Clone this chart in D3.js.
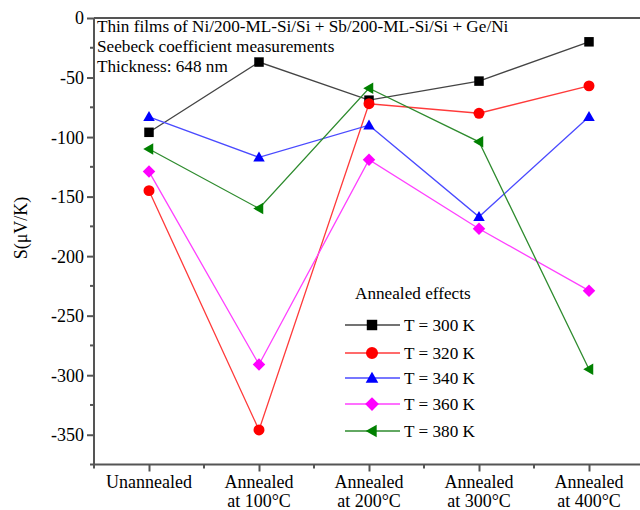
<!DOCTYPE html>
<html><head><meta charset="utf-8">
<script src="https://cdn.jsdelivr.net/npm/d3@7"></script>
<style>body{margin:0;background:#fff}svg{display:block}</style>
</head><body><svg id="c" width="640" height="510"></svg>
<script>
const categories = ["Unannealed", "Annealed\nat 100°C", "Annealed\nat 200°C", "Annealed\nat 300°C", "Annealed\nat 400°C"];
const seriesNames = ["T = 300 K", "T = 320 K", "T = 340 K", "T = 360 K", "T = 380 K"];
const s300 = [-96, -37, -69, -53, -20];
const s320 = [-145, -346, -72, -80, -57];
const s340 = [-83, -117, -90, -167, -83];
const s360 = [-129, -291, -119, -177, -229];
const s380 = [-110, -160, -59, -104, -295];
const yTicks = [0, -50, -100, -150, -200, -250, -300, -350];
const headerLines = ["Thin films of Ni/200-ML-Si/Si + Sb/200-ML-Si/Si + Ge/Ni", "Seebeck coefficient measurements", "Thickness: 648 nm"];

const FONT = "Liberation Serif";

const series = [
  {name: seriesNames[0], values: s300, color: "#000000", line: "#444444", sym: "square"},
  {name: seriesNames[1], values: s320, color: "#ff0000", line: "#ff3a3a", sym: "circle"},
  {name: seriesNames[2], values: s340, color: "#0000ff", line: "#4a4aff", sym: "up"},
  {name: seriesNames[3], values: s360, color: "#ff00ff", line: "#ff40ff", sym: "diamond"},
  {name: seriesNames[4], values: s380, color: "#008000", line: "#2e8b2e", sym: "left"}
];

const svg = d3.select("#c");
const x = d3.scaleLinear().domain([-0.5, 4.5]).range([94, 644]);
const y = d3.scaleLinear().domain([-375, 0]).range([464.5, 18]);
const axisColor = "#555";

function txt(sel) { return sel.append("text").attr("font-family", FONT).attr("fill", "#000"); }

svg.append("line").attr("x1", x(-0.5)).attr("x2", 640).attr("y1", y(0)).attr("y2", y(0))
  .attr("stroke", axisColor).attr("stroke-width", 2);

const yAxis = d3.axisLeft(y).tickValues(yTicks).tickSize(7).tickPadding(3).tickFormat(d => String(d));
const gy = svg.append("g").attr("transform", `translate(${x(-0.5)},0)`).call(yAxis);
gy.attr("font-family", FONT).attr("font-size", 18);
gy.select(".domain").attr("stroke", axisColor).attr("stroke-width", 2).attr("d", `M0,${y(-375)}V${y(0)}`);
gy.selectAll(".tick line").attr("stroke", axisColor).attr("stroke-width", 2);
gy.selectAll(".tick text").attr("font-family", FONT).attr("font-size", 18).attr("fill", "#000").attr("dy", "0.33em");
svg.append("g").selectAll("line").data(d3.range(-325, 0, 50).concat([-375]))
  .join("line").attr("x1", x(-0.5) - 4).attr("x2", x(-0.5)).attr("y1", d => y(d)).attr("y2", d => y(d))
  .attr("stroke", axisColor).attr("stroke-width", 2);

const xAxis = d3.axisBottom(x).tickValues(d3.range(0, 5)).tickSize(7).tickFormat("");
const gx = svg.append("g").attr("transform", `translate(0,${y(-375)})`).call(xAxis);
gx.select(".domain").attr("stroke", axisColor).attr("stroke-width", 2).attr("d", `M${x(-0.5)},0H640`);
gx.selectAll(".tick line").attr("stroke", axisColor).attr("stroke-width", 2);
svg.append("g").selectAll("line").data([-0.5, 0.5, 1.5, 2.5, 3.5])
  .join("line").attr("x1", d => x(d)).attr("x2", d => x(d)).attr("y1", y(-375)).attr("y2", y(-375) + 4)
  .attr("stroke", axisColor).attr("stroke-width", 2);
categories.forEach((c, i) => {
  const t = txt(svg).attr("text-anchor", "middle").attr("font-size", 18);
  c.split("\n").forEach((ln, j) => t.append("tspan").attr("x", x(i)).attr("y", 488 + j * 19).text(ln));
});

txt(svg).attr("transform", `translate(27,228) rotate(-90)`).attr("text-anchor", "middle")
  .attr("font-size", 18).text("S(μV/K)");

headerLines.forEach((t, i) => txt(svg).attr("x", 97).attr("y", 32 + i * 20).attr("font-size", 17.2).text(t));

function drawSym(g, s, r) {
  let d;
  if (s.sym === "square") d = `M${-r * 0.95},${-r * 0.95}H${r * 0.95}V${r * 0.95}H${-r * 0.95}Z`;
  else if (s.sym === "circle") d = d3.symbol().type(d3.symbolCircle).size(Math.PI * r * r * 1.2)();
  else if (s.sym === "up") d = `M0,${-r * 1.15}L${r * 1.15},${r * 0.85}L${-r * 1.15},${r * 0.85}Z`;
  else if (s.sym === "diamond") d = `M0,${-r * 1.25}L${r * 1.25},0L0,${r * 1.25}L${-r * 1.25},0Z`;
  else d = `M${-r * 1.15},0L${r * 0.85},${-r * 1.15}L${r * 0.85},${r * 1.15}Z`;
  g.append("path").attr("d", d).attr("fill", s.color);
}

const line = d3.line().x((d, i) => x(i)).y(d => y(d));
series.forEach(s => {
  svg.append("path").datum(s.values).attr("d", line).attr("fill", "none")
    .attr("stroke", s.line).attr("stroke-width", 1.3);
  s.values.forEach((v, i) => {
    const g = svg.append("g").attr("transform", `translate(${x(i)},${y(v)})`);
    drawSym(g, s, 5);
  });
});

txt(svg).attr("x", 355).attr("y", 299).attr("font-size", 17.2).text("Annealed effects");
const legY = [325, 353, 378, 404, 431];
series.forEach((s, i) => {
  svg.append("line").attr("x1", 345).attr("x2", 400).attr("y1", legY[i]).attr("y2", legY[i])
    .attr("stroke", s.line).attr("stroke-width", 1.3);
  const g = svg.append("g").attr("transform", `translate(372,${legY[i]})`);
  drawSym(g, s, 5.5);
  txt(svg).attr("x", 404).attr("y", legY[i] + 6).attr("font-size", 17.2).text(s.name);
});
</script></body></html>
